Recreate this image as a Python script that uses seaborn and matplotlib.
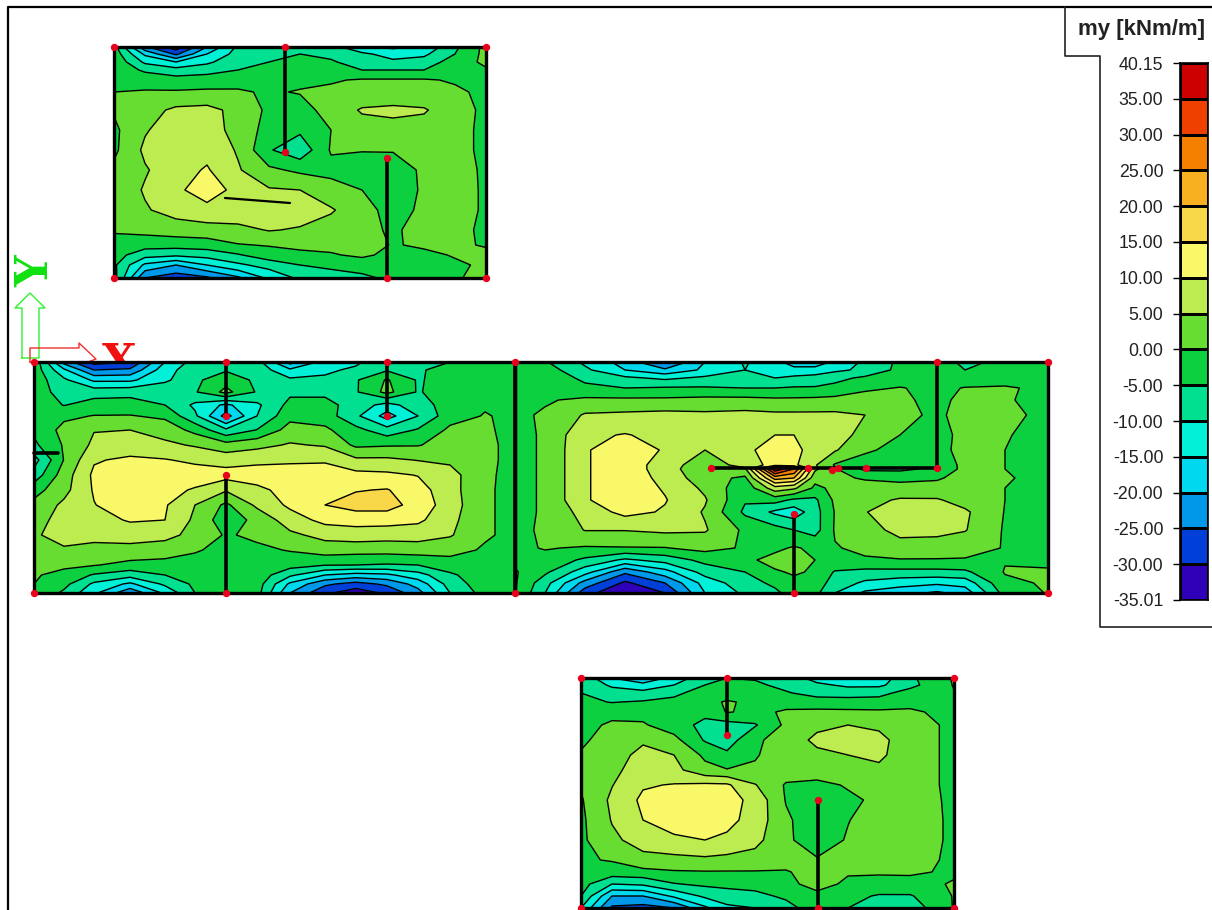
import numpy as np
import matplotlib
matplotlib.use("Agg")
import matplotlib.pyplot as plt
from matplotlib.colors import ListedColormap
import seaborn as sns

# contour levels and legend, top of the scale first
tick_labels = ["40.15", "35.00", "30.00", "25.00", "20.00", "15.00", "10.00", "5.00", "0.00",
               "-5.00", "-10.00", "-15.00", "-20.00", "-25.00", "-30.00", "-35.01"]
band_colors = ["#CC0000", "#F04000", "#F58000", "#F8B020", "#F8D848", "#F8F868", "#BCEC50", "#66DD30",
               "#0CD040", "#00E090", "#00F0D8", "#00D8F0", "#0098E8", "#0040D8", "#3000B8"]
levels = [-35.01, -30, -25, -20, -15, -10, -5, 0, 5, 10, 15, 20, 25, 30, 35, 40.15]

# upper slab
top_x = [114, 145, 176, 207, 238, 269, 300, 331, 362, 393, 424, 455, 486]
top_y = [47, 54, 62, 70, 80, 92, 110, 130, 150, 170, 190, 210, 230, 245, 255, 265, 278]
top_z = [
    [-3, -24, -33, -20, -9, -7, -6, -8, -14, -16, -14, -6, 1.5],
    [-2, -16, -26, -15, -8, -6, -5, -6, -9, -12, -11, -5, 1.5],
    [-1, -11, -15, -11, -6.5, -5, -3.5, -4.5, -7, -9, -8, -2.5, 1],
    [-1, -6, -8, -7, -5, -4, -2, -3, -5, -5, -5, -2, -0.5],
    [-1, -1.5, -3, -2.5, -1.5, -2, -1, -0.5, 0.5, 0.5, 0.5, -0.5, -1.5],
    [0, 0.3, 0.5, 0.8, 0.5, -0.5, 0.3, 1, 1.5, 2, 1.5, 0.8, -1],
    [0.5, 3, 6, 6.5, 3.5, -1, -2, 2, 5.5, 6, 5.5, 2, -1],
    [-1, 4.5, 8, 7, 3.5, -2, -4, 0, 3, 3.5, 3, 1.5, -1],
    [-1, 6, 8.5, 8.5, 4.5, -4.5, -8.5, 0.5, 0.2, 0.2, 1, 1.5, -1],
    [1, 4.5, 8, 10.5, 5.5, 1, -1, -1.5, -2, -1.5, 0.5, 2.5, -1],
    [1.5, 5.5, 9, 12.5, 8.5, 5.5, 5, 2, 0, -2, 0.5, 3, -1],
    [1, 4.5, 7, 8.5, 8.5, 8, 7.5, 5.5, 2, -2, 1, 3, -1],
    [0.3, 1.5, 2.5, 3, 3.5, 5.3, 4.5, 3, 2, -1, 2.5, 1.5, -1],
    [-1, -3, -3, -2.5, -0.3, 0.3, 1, 1.5, 3, -0.5, 1, 1, -0.5],
    [-3, -8, -9, -8, -5.5, -2, -1, -0.5, 1, -1.5, -1.5, 0.5, 1.5],
    [-4, -16, -20, -15, -11, -8, -5, -4, -3, -2, -1.5, -1, 1],
    [-3, -25, -28, -26, -21, -14, -9, -7, -6, -4, -2, -0.5, 1.5],
]

# middle slab, left part
midl_x = [34, 64, 94, 130, 165, 195, 226, 257, 290, 325, 356, 387, 418, 450, 485, 515]
midl_y = [362, 370, 380, 392, 405, 416, 430, 445, 460, 475, 490, 505, 520, 535, 550, 565, 575, 584, 593]
midl_z = [
    [-1, -22, -32, -30, -15, -8, -8, -8, -22, -13, -11, -6, -6, -5, -2, -1],
    [-2, -14, -25, -24, -12, -7, -5.5, -7, -14, -11, -9, -5.5, -5.5, -3.5, -1.5, -1],
    [-2, -9, -16, -16, -11, -6, -2, -6, -9, -9, -5.5, 0.5, -5.5, -3, -1.5, -1],
    [-2.5, -7, -7, -6.5, -6, -5.5, 1.5, -5.5, -6, -6, -5.5, 1.5, -5.5, -2, -1.5, -1],
    [-2, -5.2, -3, -3, -5, -11, -16, -11, -3.5, -3.5, -7, -12, -7, -3, -0.5, -1],
    [-3, -1, 0.2, 0.3, -1, -9, -22, -10, -1.5, -2.5, -9, -17, -10, -2, 0.3, -1],
    [-4, 1.5, 4.8, 5, 3, -1.5, -9, -4.8, 2, 1, -3.5, -8, -4.5, 1, 0.5, -1],
    [-6, 0.5, 6, 7, 6, 4.5, 2, 3.5, 5.5, 4.5, -1, -0.5, -0.3, 2, 0.8, -1],
    [-12, 0.2, 9.5, 11, 10.3, 9, 8, 9, 9.5, 9.5, 6, 6, 4.8, 4, 0.8, -1],
    [-8, 2.5, 11, 13, 13, 12.5, 12, 12, 11.5, 12, 11.5, 11, 9.8, 7, 0.6, -1],
    [-2, 3.5, 10.5, 13.5, 11.5, 9.5, 5.5, 9, 11.5, 13.5, 14.7, 15.3, 12, 7, 0.5, -1],
    [1.5, 6, 9.8, 13, 10.5, 5, -1, 6, 11, 15, 17, 17, 13, 7.5, 0.5, -1],
    [3.5, 6.5, 8, 10.5, 10, 4, -3, 1.5, 7.5, 11.5, 12, 12, 11, 6.5, 0.5, -1],
    [4.5, 6.5, 6.5, 7, 6.5, 3.5, -0.5, 1, 4, 6.5, 7.5, 7, 7, 5.5, 0.5, -1],
    [3.5, 4.5, 3.5, 3.5, 2.5, 0.5, -1.5, -1, 0.3, 2.5, 2, 2, 2.5, 1.5, -0.5, -1],
    [2, 1, 0.3, -1.5, -1.8, -2, -3, -1.5, -3, -4.8, -5, -5.5, -5, -2, -1.5, -1],
    [0.5, -1.5, -5.5, -8, -5, -3, -3, -2, -9, -15, -17, -16, -12, -6, -1.5, -1],
    [0, -3.5, -11, -16, -9, -4, -3, -2.5, -16, -24, -27, -24, -18, -8, -2, -1],
    [-0.5, -6, -14, -24, -14, -5, -3, -3, -20, -29, -33, -29, -22, -10, -3, -1],
]

# middle slab, right part
midr_x = [515, 545, 585, 625, 665, 705, 745, 775, 794, 815, 835, 865, 900, 937, 965, 1005, 1048]
midr_y = [362, 370, 378, 388, 400, 415, 435, 450, 465, 469, 478, 488, 500, 512, 530, 548, 560, 572, 583, 593]
midr_z = [
    [-1, -4.5, -11, -17, -26, -15, -9.5, -13, -18, -18, -14, -9, -4, -3, -6, -4, -1],
    [-1, -2.5, -9, -15, -19, -14, -10, -11.5, -13, -13, -11, -9, -3.5, -3, -5, -3, -1],
    [-1, -2, -6, -9, -11, -9, -7.5, -10, -9, -8, -6.5, -4, -2, -1.5, -2.5, -2, -1],
    [-1, -1.5, -4, -5, -4.5, -4.5, -5, -5, -4.5, -4.5, -3.5, -0.8, 0.2, -1, 0.2, 0.5, -1],
    [-1, -0.5, 1, 1, 1, 1.5, 1.5, 1, 1, 1.2, 1.5, 2, 1, -1.5, 1.5, 0.3, -1],
    [-1, 0.6, 5.5, 6, 6.5, 6, 6.5, 6, 6, 6, 6, 5, 1.5, -1, 2, 1, -1],
    [-1.5, 0.6, 9, 10.3, 8.5, 7, 7, 10, 10, 9, 7, 3.5, 0, -2.5, 2, 0.2, -1],
    [-1.5, 0.6, 9.5, 13, 9.5, 5, 9, 12, 12, 7, 5.5, 0.5, -1, -2, 2, 0, -1],
    [-1.5, 0.6, 9.5, 13, 7.5, 2, 7, 12, 11, 5.5, -0.5, -1.5, -3, -5, 2, 0, -1],
    [-1.5, 0.6, 9.5, 13, 7.5, 1, 4, 39, 30, 6, 0.5, -6, -6, -4, 1.5, 0, -1],
    [-1.5, 0.6, 9.5, 13, 8.5, 2, -1, 22, 20, 1.5, 1, -0.5, -1.5, -0.5, 1.5, 0.3, -1],
    [-1.5, 0.6, 9.5, 13, 9.5, 4, -3.5, 8, 6, -1, 1, 2, 2, 1.5, 1.5, 0, -1],
    [-1.5, 0.6, 9.5, 13, 10.3, 5.5, -4.5, -3, -6, -6, 1, 3.5, 5.5, 5.5, 3, 0, -1],
    [-1.5, 0.6, 7, 11.5, 9.5, 4.5, -6, -11, -13, -7, 0.3, 4.8, 7.5, 8, 5.8, -0.2, -1],
    [-1, 0.6, 5.2, 5.2, 6, 5.5, -1, -3, -5, -7, 0.5, 3, 6.5, 6.5, 5.3, -0.5, -1],
    [-1, 0.3, -0.5, -0.3, -0.2, 1.5, -0.5, -1, 0.5, -1, -0.3, 1, 3, 2.5, 1.5, -0.2, -1],
    [-1, -1.5, -6, -11, -8, -3.5, -1, 1.5, 3, 0, -0.5, -0.5, -0.3, -0.3, -0.3, -0.3, -1],
    [0.5, -4, -13, -24, -17, -8, -5, -0.5, 0.5, -0.5, -5.5, -6.5, -6.5, -6.5, -6, 0.3, 0.5],
    [0.5, -8, -22, -31, -25, -13, -7, -4, -1, -2.5, -7, -11, -13, -14, -13, -1, 0.5],
    [0.3, -10, -28, -35, -30, -15, -9, -6, -3, -3.5, -10, -16, -18, -21, -18, -3, 0.3],
]

# lower slab
low_x = [581, 612, 643, 674, 705, 727, 755, 786, 817, 848, 879, 910, 954]
low_y = [678, 685, 693, 702, 712, 725, 740, 755, 770, 785, 800, 820, 840, 860, 872, 884, 896, 908]
low_z = [
    [-6, -15, -20, -13, -7, -5, -5.5, -7, -12, -14, -13, -6, 0.5],
    [-5.5, -11, -13, -10, -5, -4, -4, -6.5, -9, -11, -11, -6.5, 0.3],
    [-5, -7.5, -8.5, -6, -3, -2.5, -2, -4.5, -7, -7, -6.5, -3, -0.2],
    [-4, -5.2, -4.5, -3.8, -1.5, 0.5, -1, -1.5, -2.5, -3, -3, -1, -0.5],
    [-3, -2, -1.5, -1.5, -3.5, 0.3, -1, 0.5, 1, 1, 0.8, 0.5, -1],
    [-2, 1, 0.5, -2.5, -6.5, -7, -5.5, 1, 4, 5, 4, 2, -1],
    [-1, 2.5, 4.5, 1.5, -5.5, -7.5, -1, 2.5, 6, 7, 6.5, 2, -1],
    [0.5, 3.5, 6, 5, -1, -4, -0.5, 3, 4, 5, 6, 2, -1],
    [1, 4, 7, 6.5, 1.5, 0.3, 0.8, 2.5, 3, 3.5, 4, 2, -1],
    [0.5, 4.8, 9.5, 10.3, 11, 10.8, 5.3, -0.5, -1.5, 0.5, 2, 2, -1],
    [-0.5, 6, 11, 12, 12.5, 12, 8.5, -0.3, -3, -1, 1, 2.5, -1],
    [-1, 5.3, 10, 12.5, 12.5, 11.5, 8, 0.8, -3, -0.2, 2.5, 3, -1],
    [-1, 4, 7, 9, 10, 9, 6.5, 1, -3, 0.5, 3, 3, -1],
    [-0.5, 0.3, 3.5, 3.5, 4, 3.5, 3, 1, 0.5, 2, 2.5, 2, -1],
    [-1.5, -2, -1.5, -0.5, -0.3, -0.3, -0.3, -0.2, 1, 0.5, 0.5, 0.5, -0.5],
    [-3, -10, -9, -5.3, -4, -3.5, -3, -1.5, 2, -1, -1.5, -1.2, 0.3],
    [-5, -20, -20, -14, -9, -7.5, -6.5, -4, -1.5, -3.5, -5.5, -5.5, 0.3],
    [-10, -26, -27, -25, -16, -11, -10, -7, -2, -5, -8, -8, 0.3],
]

panels = [(top_x, top_y, top_z), (midl_x, midl_y, midl_z), (midr_x, midr_y, midr_z), (low_x, low_y, low_z)]

# walls as (x1, y1, x2, y2)
walls = [
    (285, 47, 285, 152), (387, 158, 387, 278),
    (226, 362, 226, 416), (387, 362, 387, 416), (226, 475, 226, 593), (515, 362, 515, 593), (34, 453, 58, 453),
    (711, 468, 937, 468), (937, 362, 937, 468), (794, 514, 794, 593),
    (727, 678, 727, 735), (818, 800, 818, 908),
]
thin_wall = (225, 198, 290, 203)
node_x = [114, 285, 486, 285, 387, 114, 387, 486,
          34, 226, 387, 515, 226, 387, 226, 34, 226, 515,
          711, 808, 832, 838, 866, 937, 937, 1048, 794, 794, 1048,
          581, 727, 954, 727, 818, 581, 818, 954]
node_y = [47, 47, 47, 152, 158, 278, 278, 278,
          362, 362, 362, 362, 416, 416, 475, 593, 593, 593,
          468, 468, 470, 468, 468, 468, 362, 362, 514, 593, 593,
          678, 678, 678, 735, 800, 908, 908, 908]

sns.set_theme(style="white")
plt.rcParams["font.family"] = ["Liberation Sans", "DejaVu Sans"]

fig = plt.figure(figsize=(12.12, 9.10), dpi=100)
ax = fig.add_axes([0, 0, 1, 1])
ax.set_xlim(0, 1212)
ax.set_ylim(910, 0)
ax.axis("off")

# outer window frame and legend box
ax.plot([8, 8, 1212], [910, 7, 7], color="black", lw=1.6, zorder=1)
ax.plot([1065, 1065, 1100, 1100, 1212], [7, 56, 56, 627, 627], color="#222222", lw=1.2, zorder=1)
ax.text(1142, 30, "my [kNm/m]", ha="center", va="center", fontsize=16, fontweight="bold", color="#222222")

# global axes symbol, partly hidden by the slab
ax.plot([22, 22, 15, 30, 45, 39, 39, 22], [358, 308, 308, 293, 308, 308, 358, 358], color="#30F030", lw=1, zorder=1)
ax.plot([30, 30, 79, 79, 96, 88, 30], [362, 348, 348, 343, 359, 362, 362], color="#F03030", lw=1, zorder=1)
ax.text(36, 271, "Y", rotation=90, ha="center", va="center", color="#10E010", fontsize=32,
        fontweight="bold", family="DejaVu Serif", zorder=1)
ax.text(119, 363, "X", ha="center", va="center", color="#F01010", fontsize=32,
        fontweight="bold", family="DejaVu Serif", zorder=1)

colors_up = band_colors[::-1]
for px, py, pz in panels:
    z = np.array(pz, dtype=float)
    ax.contourf(px, py, z, levels=levels, colors=colors_up, zorder=2)
    ax.contour(px, py, z, levels=levels[1:-1], colors="black", linewidths=1.0, linestyles="solid", zorder=3)
    ax.plot([px[0], px[-1], px[-1], px[0], px[0]], [py[0], py[0], py[-1], py[-1], py[0]],
            color="black", lw=2.4, zorder=4, solid_capstyle="projecting")

for x1, y1, x2, y2 in walls:
    ax.plot([x1, x2], [y1, y2], color="black", lw=2.6, zorder=5)
ax.plot(thin_wall[::2], thin_wall[1::2], color="black", lw=1.6, zorder=5)
ax.scatter(node_x, node_y, s=28, color="#E8001C", linewidths=0, zorder=6)

# legend colour bar
cax = fig.add_axes([1180 / 1212, 1 - 600 / 910, 28 / 1212, 537 / 910])
bands = np.arange(len(band_colors)).reshape(-1, 1)
sns.heatmap(bands, ax=cax, cmap=ListedColormap(band_colors), cbar=False, linewidths=0.8, linecolor="black",
            xticklabels=False, yticklabels=False)
cax.set_yticks(np.arange(len(tick_labels)))
cax.set_yticklabels(tick_labels, rotation=0, fontsize=12.8, color="#222222")
cax.tick_params(axis="y", left=True, length=5, width=1, color="black", pad=7)
for spine in cax.spines.values():
    spine.set_visible(True)
    spine.set_color("black")
    spine.set_linewidth(1.2)

fig.savefig("out.png", dpi=100, facecolor="white")
